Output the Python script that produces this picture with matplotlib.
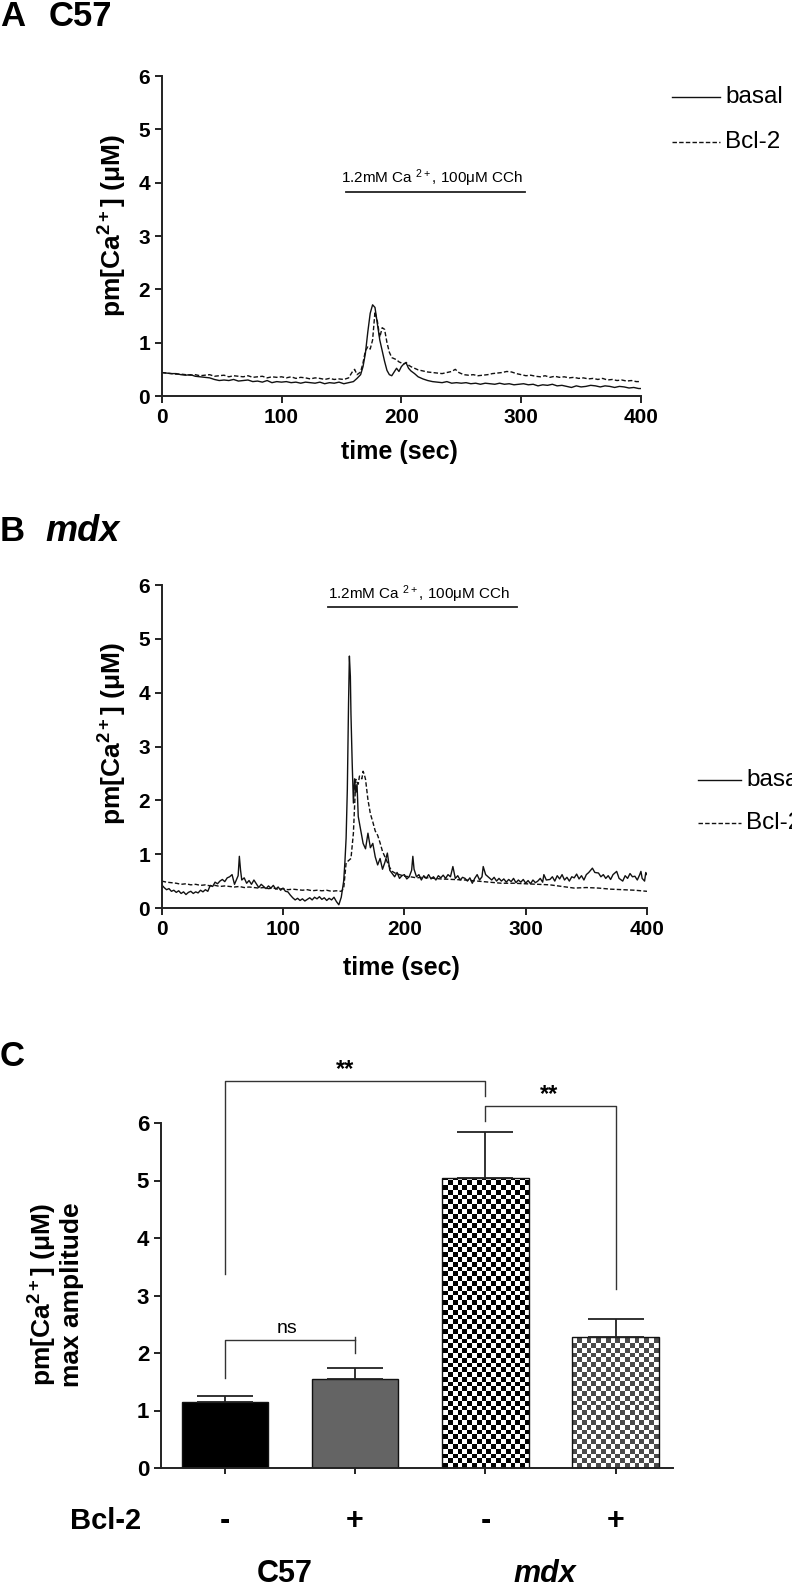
import numpy as np
import matplotlib
matplotlib.use('Agg')
import matplotlib.pyplot as plt
from matplotlib.lines import Line2D
from matplotlib.colors import ListedColormap

plt.rcParams['font.family'] = ['Liberation Sans', 'DejaVu Sans']
plt.rcParams['mathtext.fontset'] = 'custom'
plt.rcParams['mathtext.rm'] = 'Liberation Sans'
plt.rcParams['mathtext.bf'] = 'Liberation Sans:bold'
plt.rcParams['mathtext.it'] = 'Liberation Sans:italic'

# ---------------- data ----------------
# Panel A (C57): (time s, pm[Ca2+] uM)
A_basal = [(0,0.44),(4,0.43),(8,0.42),(12,0.42),(16,0.40),(20,0.39),(24,0.40),(28,0.37),(32,0.36),(36,0.35),
           (40,0.34),(44,0.31),(48,0.29),(52,0.30),(56,0.29),(60,0.31),(64,0.28),(68,0.29),(72,0.30),(76,0.27),
           (80,0.28),(84,0.26),(88,0.29),(92,0.25),(96,0.27),(100,0.26),(104,0.27),(108,0.25),(112,0.26),(116,0.24),
           (120,0.26),(124,0.25),(128,0.24),(132,0.26),(136,0.23),(140,0.25),(144,0.24),(148,0.26),(152,0.23),(156,0.25),
           (160,0.27),(163,0.33),(166,0.40),(168,0.55),(170,0.80),(172,1.20),(174,1.55),(176,1.71),(178,1.66),(180,1.35),
           (182,1.05),(184,0.85),(186,0.65),(188,0.48),(190,0.40),(192,0.38),(194,0.45),(196,0.52),(198,0.46),(200,0.55),
           (202,0.60),(204,0.62),(206,0.52),(208,0.47),(211,0.42),(214,0.36),(218,0.32),(222,0.29),(226,0.27),(230,0.26),
           (234,0.25),(238,0.27),(242,0.24),(246,0.25),(250,0.24),(254,0.25),(258,0.23),(262,0.24),(266,0.22),(270,0.24),
           (274,0.23),(278,0.22),(282,0.24),(286,0.22),(290,0.23),(294,0.21),(298,0.22),(302,0.23),(306,0.21),(310,0.22),
           (314,0.19),(318,0.21),(322,0.20),(326,0.22),(330,0.19),(334,0.20),(338,0.18),(342,0.16),(346,0.19),(350,0.17),
           (354,0.18),(358,0.20),(362,0.19),(366,0.17),(370,0.19),(374,0.18),(378,0.16),(382,0.18),(386,0.17),(390,0.15),
           (394,0.16),(398,0.14),(400,0.14)]
A_bcl2 = [(0,0.44),(4,0.43),(8,0.42),(12,0.41),(16,0.41),(20,0.40),(24,0.39),(28,0.40),(32,0.38),(36,0.39),
          (40,0.40),(44,0.37),(48,0.38),(52,0.39),(56,0.36),(60,0.38),(64,0.37),(68,0.36),(72,0.38),(76,0.35),
          (80,0.36),(84,0.37),(88,0.34),(92,0.36),(96,0.35),(100,0.36),(104,0.34),(108,0.36),(112,0.33),(116,0.35),
          (120,0.34),(124,0.32),(128,0.34),(132,0.33),(136,0.31),(140,0.33),(144,0.31),(148,0.32),(152,0.31),(156,0.34),
          (159,0.45),(161,0.50),(163,0.40),(166,0.45),(168,0.62),(170,0.85),(172,0.92),(174,0.88),(176,1.05),(178,1.58),
          (180,1.40),(182,1.10),(184,1.28),(186,1.25),(188,1.00),(190,0.82),(192,0.72),(194,0.70),(196,0.68),(198,0.64),
          (200,0.62),(202,0.60),(204,0.63),(206,0.58),(208,0.55),(211,0.52),(214,0.49),(218,0.47),(222,0.45),(226,0.44),
          (230,0.43),(234,0.42),(238,0.44),(242,0.46),(245,0.50),(248,0.44),(252,0.40),(256,0.39),(260,0.40),(264,0.38),
          (268,0.39),(272,0.40),(276,0.42),(280,0.43),(284,0.44),(288,0.46),(292,0.45),(296,0.42),(300,0.40),(304,0.38),
          (308,0.39),(312,0.37),(316,0.36),(320,0.38),(324,0.35),(328,0.37),(332,0.35),(336,0.36),(340,0.34),(344,0.35),
          (348,0.33),(352,0.34),(356,0.32),(360,0.33),(364,0.31),(368,0.33),(372,0.30),(376,0.31),(380,0.29),(384,0.30),
          (388,0.28),(392,0.29),(396,0.27),(400,0.27)]

# Panel B (mdx)
B_basal = [(0,0.43),(2,0.38),(4,0.34),(6,0.36),(8,0.31),(10,0.33),(12,0.29),(14,0.32),(16,0.27),(18,0.30),
           (20,0.25),(22,0.29),(24,0.31),(26,0.27),(28,0.30),(30,0.28),(32,0.33),(34,0.30),(36,0.34),(38,0.31),
           (40,0.42),(42,0.40),(44,0.48),(46,0.45),(48,0.50),(50,0.53),(52,0.49),(54,0.56),(56,0.58),(58,0.62),
           (60,0.44),(62,0.55),(63,0.60),(64,0.96),(65,0.70),(66,0.52),(68,0.56),(70,0.46),(72,0.51),(74,0.44),
           (76,0.52),(78,0.45),(80,0.38),(82,0.44),(84,0.40),(86,0.36),(88,0.41),(90,0.37),(92,0.42),(94,0.35),
           (96,0.39),(98,0.33),(100,0.37),(102,0.31),(104,0.30),(106,0.24),(108,0.19),(110,0.15),(112,0.18),(114,0.14),
           (116,0.17),(118,0.13),(120,0.16),(122,0.19),(124,0.15),(126,0.20),(128,0.17),(130,0.21),(132,0.16),(134,0.19),
           (136,0.14),(138,0.18),(140,0.15),(142,0.20),(144,0.12),(146,0.06),(148,0.20),(150,0.50),(151,0.85),(152,1.30),
           (153,2.20),(154,3.80),(154.7,4.68),(155.5,4.30),(156,3.60),(157,2.70),(158,1.95),(159,2.40),(160,2.15),(161,2.30),
           (162,1.70),(164,1.45),(166,1.20),(168,1.10),(170,1.39),(172,1.12),(174,1.20),(176,0.95),(178,0.80),(180,0.92),
           (182,0.72),(184,0.85),(186,1.02),(188,0.70),(190,0.64),(192,0.58),(194,0.66),(196,0.55),(198,0.60),(200,0.62),
           (202,0.54),(204,0.58),(206,0.70),(207,0.96),(208,0.72),(210,0.58),(212,0.62),(214,0.52),(216,0.60),(218,0.55),
           (220,0.62),(222,0.54),(224,0.58),(226,0.52),(228,0.60),(230,0.56),(232,0.61),(234,0.55),(236,0.62),(238,0.58),
           (240,0.77),(242,0.55),(244,0.60),(246,0.52),(248,0.57),(250,0.55),(252,0.50),(254,0.56),(256,0.46),(258,0.55),
           (260,0.62),(262,0.52),(264,0.58),(265,0.77),(267,0.62),(270,0.56),(272,0.52),(274,0.57),(276,0.50),(278,0.55),
           (280,0.50),(282,0.54),(284,0.48),(286,0.53),(288,0.49),(290,0.55),(292,0.47),(294,0.52),(296,0.48),(298,0.53),
           (300,0.46),(302,0.51),(304,0.45),(306,0.52),(308,0.47),(310,0.50),(312,0.55),(314,0.48),(315,0.62),(317,0.52),
           (320,0.53),(322,0.58),(324,0.50),(326,0.60),(328,0.54),(330,0.62),(332,0.52),(334,0.57),(336,0.50),(338,0.58),
           (340,0.56),(342,0.63),(344,0.54),(346,0.60),(348,0.52),(350,0.62),(352,0.66),(355,0.74),(357,0.66),(360,0.65),
           (362,0.58),(364,0.62),(366,0.55),(368,0.60),(370,0.53),(372,0.62),(375,0.68),(377,0.55),(380,0.50),(382,0.60),
           (384,0.55),(386,0.64),(388,0.58),(390,0.59),(392,0.52),(394,0.62),(395,0.68),(396,0.55),(398,0.50),(399,0.66),
           (400,0.62)]
B_bcl2 = [(0,0.50),(4,0.48),(8,0.47),(12,0.46),(16,0.44),(20,0.45),(24,0.43),(28,0.44),(32,0.42),(36,0.43),
          (40,0.41),(44,0.42),(48,0.40),(52,0.41),(56,0.40),(60,0.39),(64,0.40),(68,0.38),(72,0.39),(76,0.38),
          (80,0.37),(84,0.38),(88,0.36),(92,0.37),(96,0.35),(100,0.36),(104,0.34),(108,0.35),(112,0.34),(116,0.33),
          (120,0.34),(124,0.32),(128,0.33),(132,0.32),(136,0.33),(140,0.31),(144,0.32),(148,0.31),(150,0.36),(151,0.60),
          (152,0.84),(154,0.88),(156,0.92),(158,1.39),(159,1.90),(160,2.39),(162,2.30),(163,2.45),(165,2.40),(166,2.54),
          (167,2.48),(168,2.39),(170,2.01),(172,1.75),(174,1.60),(176,1.43),(178,1.35),(180,1.21),(182,1.05),(185,0.90),
          (188,0.75),(190,0.68),(193,0.64),(196,0.62),(200,0.59),(205,0.58),(210,0.56),(215,0.57),(220,0.56),(225,0.55),
          (230,0.54),(240,0.53),(250,0.52),(260,0.50),(270,0.48),(280,0.46),(290,0.46),(300,0.45),(310,0.44),(320,0.43),
          (330,0.40),(340,0.37),(350,0.38),(360,0.37),(370,0.35),(380,0.34),(390,0.33),(400,0.31)]

# Panel C: max amplitude
C_groups = ['C57 -', 'C57 +', 'mdx -', 'mdx +']
C_bcl2_signs = ['-', '+', '-', '+']
C_means = [1.15, 1.54, 5.04, 2.27]
C_sem = [0.11, 0.20, 0.80, 0.32]
C_strains = ['C57', 'mdx']

time_ticks = [0, 100, 200, 300, 400]
conc_ticks = [0, 1, 2, 3, 4, 5, 6]

# ---------------- figure ----------------
W, H = 792, 1596
fig = plt.figure(figsize=(W / 100, H / 100), dpi=100)


def rect(l, r, t, b):
    return [l / W, 1 - b / H, (r - l) / W, (b - t) / H]


def style(ax, labelsize):
    for s in ['top', 'right']:
        ax.spines[s].set_visible(False)
    for s in ['left', 'bottom']:
        ax.spines[s].set_linewidth(1.4)
        ax.spines[s].set_color('#222222')
    ax.tick_params(width=1.4, length=5, color='#222222', labelsize=labelsize, pad=3.5)


LC = '#111111'
DASH = (3.2, 1.6)
ylab = 'pm[Ca$^{\\mathbf{2+}}$] (\u03bcM)'
annot = '1.2mM Ca $^{\\mathrm{2+}}$, 100\u03bcM CCh'

# Panel A
axA = fig.add_axes(rect(161.7, 641, 76, 396))
tA, vA = zip(*A_basal)
tA2, vA2 = zip(*A_bcl2)
axA.plot(tA, vA, color=LC, lw=1.0)
axA.plot(tA2, vA2, color=LC, lw=1.0, dashes=DASH)
axA.set_xlim(0, 400)
axA.set_ylim(0, 6)
style(axA, 15)
axA.set_xticks(time_ticks, [str(t) for t in time_ticks], fontweight='bold')
axA.set_yticks(conc_ticks, [str(t) for t in conc_ticks], fontweight='bold')
axA.text(0.495, -0.175, 'time (sec)', transform=axA.transAxes, ha='center', va='center',
         fontsize=18, fontweight='bold')
axA.text(225.6, 4.09, annot, ha='center', va='center', fontsize=11)
axA.plot([154, 303], [3.83, 3.83], color='#222222', lw=1.3, clip_on=False)

# Panel B
axB = fig.add_axes(rect(161.7, 647, 585, 908))
tB, vB = zip(*B_basal)
tB2, vB2 = zip(*B_bcl2)
axB.plot(tB, vB, color=LC, lw=1.0)
axB.plot(tB2, vB2, color=LC, lw=1.0, dashes=DASH)
axB.set_xlim(0, 400)
axB.set_ylim(0, 6)
style(axB, 15)
axB.set_xticks(time_ticks, [str(t) for t in time_ticks], fontweight='bold')
axB.set_yticks(conc_ticks, [str(t) for t in conc_ticks], fontweight='bold')
axB.text(0.495, -0.186, 'time (sec)', transform=axB.transAxes, ha='center', va='center',
         fontsize=18, fontweight='bold')
axB.text(212, 5.82, annot, ha='center', va='center', fontsize=11, clip_on=False)
axB.plot([137, 293], [5.6, 5.6], color='#222222', lw=1.3, clip_on=False)

# y labels of A/B
fig.text(113 / W, 1 - 226 / H, ylab, rotation=90, ha='center', va='center', fontsize=19, fontweight='bold')
fig.text(113 / W, 1 - 734 / H, ylab, rotation=90, ha='center', va='center', fontsize=19, fontweight='bold')


# legends (drawn as figure artists)
def legend_entry(x0, x1, y, label, dashed):
    ln = Line2D([x0 / W, x1 / W], [1 - y / H, 1 - y / H], transform=fig.transFigure,
                color=LC, lw=1.0)
    if dashed:
        ln.set_dashes(DASH)
    fig.add_artist(ln)
    fig.text((x1 + 5) / W, 1 - y / H, label, ha='left', va='center', fontsize=17.5)


legend_entry(672, 720, 97, 'basal', False)
legend_entry(672, 720, 142, 'Bcl-2', True)
legend_entry(698, 741, 780, 'basal', False)
legend_entry(698, 741, 823, 'Bcl-2', True)

# Panel titles
fig.text(0 / W, 1 - 16 / H, 'A', ha='left', va='center', fontsize=25, fontweight='bold')
fig.text(49 / W, 1 - 16 / H, 'C57', ha='left', va='center', fontsize=25, fontweight='bold')
fig.text(0 / W, 1 - 532 / H, 'B', ha='left', va='center', fontsize=25, fontweight='bold')
fig.text(45 / W, 1 - 532 / H, 'mdx', ha='left', va='center', fontsize=26, fontweight='bold', style='italic')
fig.text(0 / W, 1 - 1056 / H, 'C', ha='left', va='center', fontsize=25, fontweight='bold')

# Panel C
axC = fig.add_axes(rect(161, 673, 1123, 1468))
xpos = np.arange(len(C_means))
face = ['#000000', '#646464', 'none', 'none']
bars = axC.bar(xpos, C_means, width=0.665, color=face, edgecolor='#111111', linewidth=1.0, zorder=2)
axC.errorbar(xpos, C_means, yerr=[np.zeros(len(C_sem)), C_sem], fmt='none', ecolor='#222222',
             elinewidth=1.3, capsize=20, capthick=1.3, zorder=3)
XL = (-0.49, 3.44)
axC.set_xlim(*XL)
axC.set_ylim(0, 6)

# checkerboard fills for mdx bars
ncol, nrow = 107, 72
ii, jj = np.meshgrid(np.arange(ncol), np.arange(nrow))
checker = ((ii + jj) % 2).astype(float)
for idx, dark in [(2, '#000000'), (3, '#4a4a4a')]:
    im = axC.imshow(checker, cmap=ListedColormap(['#ffffff', dark]), extent=[XL[0], XL[1], 0, 6],
                    aspect='auto', interpolation='nearest', origin='lower', zorder=1.5)
    im.set_clip_path(bars[idx])
axC.set_xlim(*XL)
axC.set_ylim(0, 6)
style(axC, 16)
axC.set_yticks(conc_ticks, [str(t) for t in conc_ticks], fontweight='bold')
axC.set_xticks(xpos, ['' for _ in xpos])
axC.tick_params(axis='x', length=4.5)

# significance brackets
BC = '#333333'
axC.plot([0, 0, 2, 2], [3.37, 6.73, 6.73, 6.47], color=BC, lw=1.0, clip_on=False)
axC.text(0.92, 6.93, '**', ha='center', va='center', fontsize=17, fontweight='bold', clip_on=False)
axC.plot([2, 2, 3, 3], [6.03, 6.30, 6.30, 3.12], color=BC, lw=1.0, clip_on=False)
axC.text(2.49, 6.50, '**', ha='center', va='center', fontsize=17, fontweight='bold', clip_on=False)
axC.plot([0, 0, 1], [1.57, 2.23, 2.23], color=BC, lw=1.0, clip_on=False)
axC.plot([1, 1], [2.0, 2.28], color=BC, lw=1.0, clip_on=False)
axC.text(0.48, 2.42, 'ns', ha='center', va='center', fontsize=14)

# Bcl-2 row and strain labels
for xi, s in zip(xpos, C_bcl2_signs):
    axC.text(xi, -0.92, s, ha='center', va='center', fontsize=22, fontweight='bold', clip_on=False)
fig.text(70 / W, 1 - 1521 / H, 'Bcl-2', ha='left', va='center', fontsize=21, fontweight='bold')
fig.text(285 / W, 1 - 1574 / H, C_strains[0], ha='center', va='center', fontsize=22, fontweight='bold')
fig.text(545 / W, 1 - 1574 / H, C_strains[1], ha='center', va='center', fontsize=22, fontweight='bold',
         style='italic')
fig.text(55 / W, 1 - 1295 / H, ylab + '\nmax amplitude', rotation=90, ha='center', va='center',
         fontsize=19, fontweight='bold', multialignment='center', linespacing=1.05)

fig.savefig('out.png', dpi=100)
